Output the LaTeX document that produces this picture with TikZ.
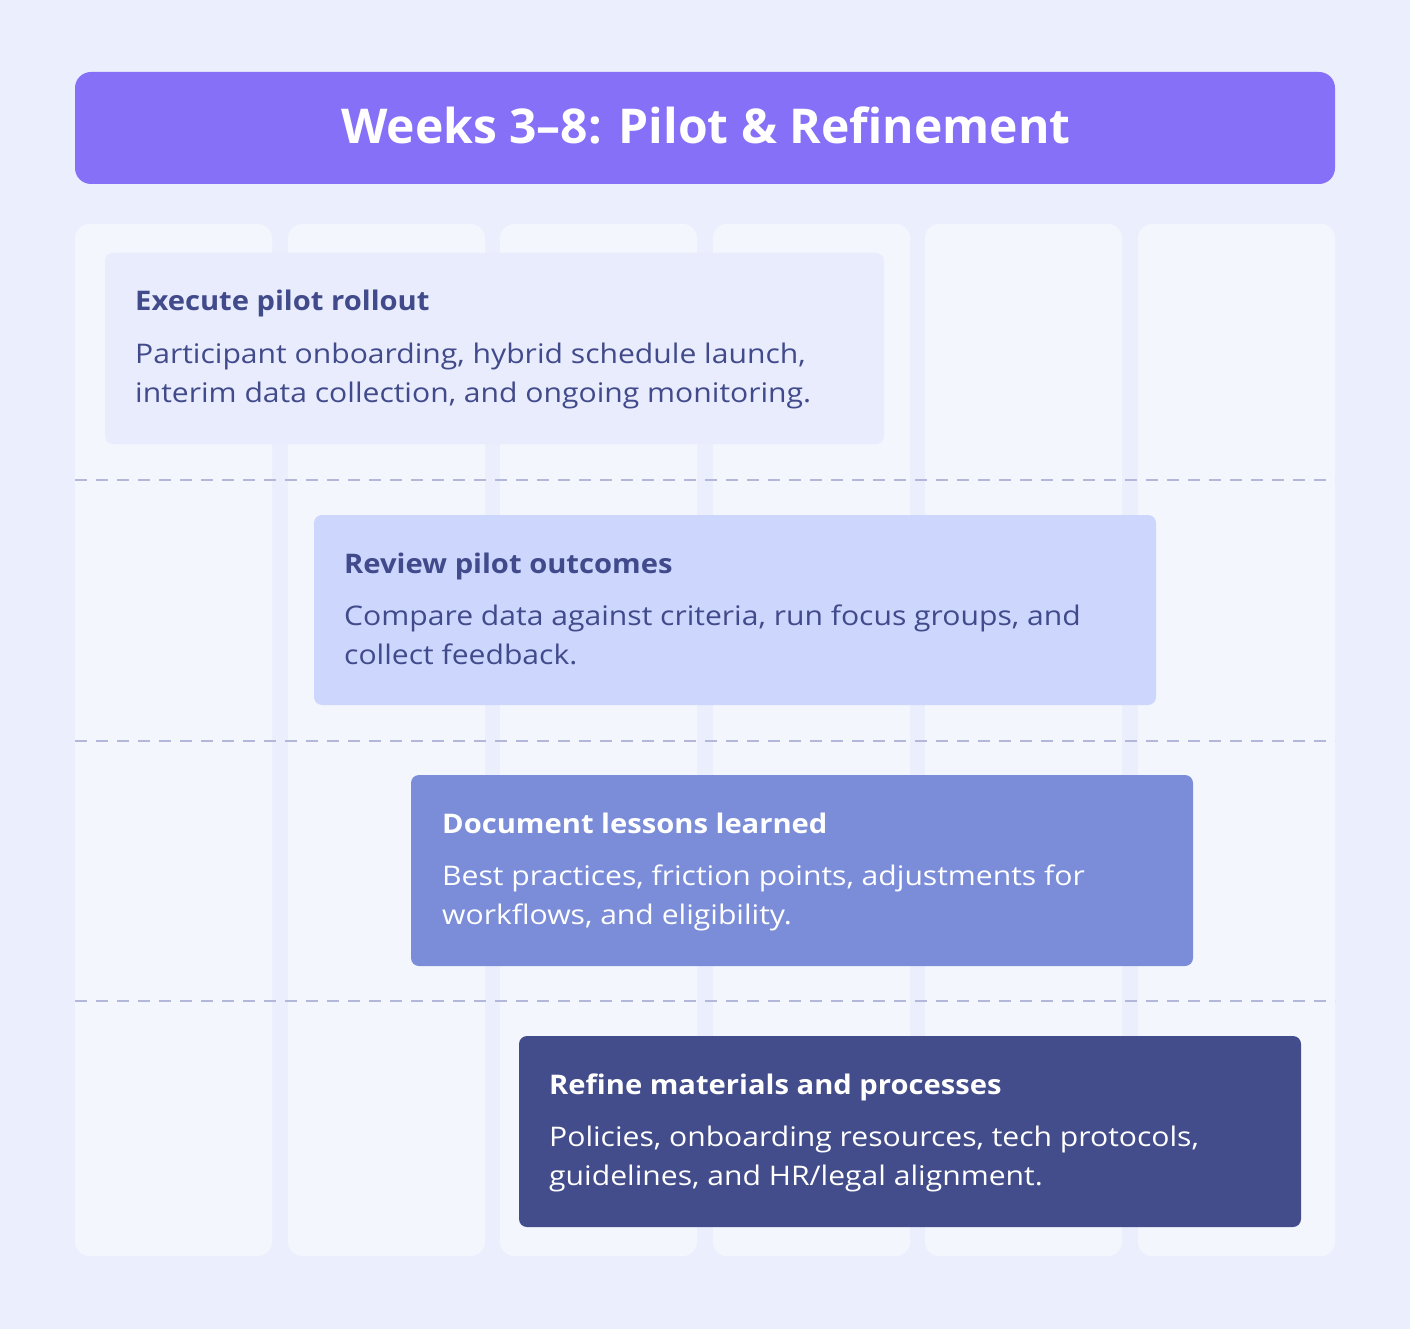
\documentclass[tikz,border=0pt]{standalone}
\usepackage{fontspec}
\setmainfont{Open Sans}
\newfontfamily\bodyfont[FakeStretch=1.115]{Open Sans}
\newfontfamily\cardhead[FakeStretch=1.08]{Open Sans}
\definecolor{bg}{HTML}{EBEEFC}
\definecolor{colfill}{HTML}{F4F6FE}
\definecolor{head}{HTML}{8770F8}
\definecolor{dash}{HTML}{B3B7D9}
\definecolor{cardA}{HTML}{E8ECFC}
\definecolor{cardB}{HTML}{CDD6FC}
\definecolor{cardC}{HTML}{7B8DD8}
\definecolor{cardD}{HTML}{444D8C}
\definecolor{ink}{HTML}{414A8A}
\tikzset{
  colbox/.style={fill=colfill, draw=none, rounded corners=14pt},
  card/.style={draw=none, rounded corners=8pt},
  cardtitle/.style={anchor=base west, inner sep=0pt, font=\cardhead\fontsize{27}{34}\selectfont\bfseries},
  cardtext/.style={anchor=base west, inner sep=0pt, font=\bodyfont\fontsize{27}{39}\selectfont},
  rowline/.style={draw=dash, line width=1.3pt, dash pattern=on 12pt off 9pt},
}
\begin{document}
\begin{tikzpicture}[x=1pt,y=-1pt]
\useasboundingbox (0,0) rectangle (1410,1329);
\fill[bg] (0,0) rectangle (1410,1329);
% header
\node[fill=head, rounded corners=16pt, minimum width=1260pt, minimum height=112pt, inner sep=0pt] (header) at (705,128) {};
\node[text=white, anchor=base, inner sep=0pt, font=\fontsize{48}{58}\selectfont\bfseries] (title) at (706,144) {Weeks 3--8: Pilot \& Refinement};
% columns
\foreach \i/\x in {1/75,2/288,3/500,4/713,5/925,6/1138}{
  \path[colbox] (\x,224) rectangle (\x+197,1256);
}
% cards
\path[card, fill=cardA] (105,253) rectangle (884,444);
\path[card, fill=cardB] (314,515) rectangle (1156,705);
\path[card, fill=cardC] (411,775) rectangle (1193,966);
\path[card, fill=cardD] (519,1036) rectangle (1301,1227);
% row separators
\coordinate (l1a) at (75,480); \coordinate (l1b) at (1335,480);
\coordinate (l2a) at (75,741); \coordinate (l2b) at (1335,741);
\coordinate (l3a) at (75,1001); \coordinate (l3b) at (1335,1001);
\draw[rowline] (l1a) -- (l1b);
\draw[rowline] (l2a) -- (l2b);
\draw[rowline] (l3a) -- (l3b);
% texts
\node[cardtitle, text=ink] (t1) at (135,311) {Execute pilot rollout};
\node[cardtext, text=ink] (d1a) at (135,363) {Participant onboarding, hybrid schedule launch,};
\node[cardtext, text=ink] (d1b) at (135,402) {interim data collection, and ongoing monitoring.};
\node[cardtitle, text=ink] (t2) at (344,573) {Review pilot outcomes};
\node[cardtext, text=ink] (d2a) at (344,625) {Compare data against criteria, run focus groups, and};
\node[cardtext, text=ink] (d2b) at (344,664) {collect feedback.};
\node[cardtitle, text=white] (t3) at (442,833) {Document lessons learned};
\node[cardtext, text=white] (d3a) at (442,885) {Best practices, friction points, adjustments for};
\node[cardtext, text=white] (d3b) at (442,924) {workflows, and eligibility.};
\node[cardtitle, text=white] (t4) at (549,1094) {Refine materials and processes};
\node[cardtext, text=white] (d4a) at (549,1146) {Policies, onboarding resources, tech protocols,};
\node[cardtext, text=white] (d4b) at (549,1185) {guidelines, and HR/legal alignment.};
\end{tikzpicture}
\end{document}
